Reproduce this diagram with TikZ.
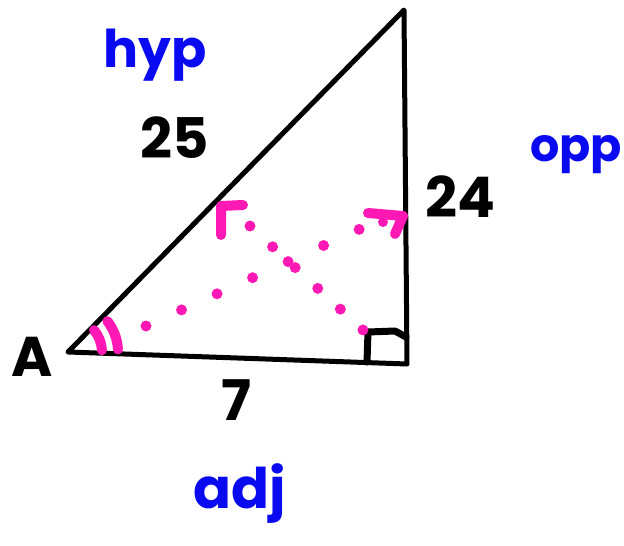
\documentclass[tikz,border=0pt]{standalone}
\usepackage{fontspec}
\setmainfont{Poppins}
\definecolor{rosa}{RGB}{255,25,180}
\definecolor{blu}{RGB}{10,10,240}
\tikzset{
  lato/.style={line width=5pt, line cap=round, line join=round},
  segno/.style={rosa, line width=10pt, line cap=round, line join=round},
  nome/.style={blu, font=\fontsize{52}{52}\selectfont\bfseries},
  misura/.style={font=\fontsize{56}{56}\selectfont\bfseries},
}
\begin{document}
\begin{tikzpicture}[x=1pt,y=-1pt]
  \useasboundingbox (0,0) rectangle (624,546);
  % vertici e lati
  \coordinate (A) at (68,352);
  \coordinate (B) at (404,10);
  \coordinate (C) at (407,364);
  \draw[lato] (A) -- (B) -- (C) -- cycle;
  \draw[lato, line width=7pt] (367,362) -- (368,332) -- (395,331) -- (406,337);

  % angolo in A e linee tratteggiate
  \draw[segno] (A) ++(-40:34) arc[start angle=-40, end angle=-3, radius=34];
  \draw[segno] (A) ++(-38:50) arc[start angle=-38, end angle=-3, radius=50];
  \coordinate (p1) at (146,326);
  \coordinate (p2) at (360,229);
  \coordinate (q1) at (250,226);
  \coordinate (q2) at (363,330);
  \draw[segno, line width=11pt, dash pattern=on 0pt off 39pt] (p1) -- (p2);
  \draw[segno, line width=11pt, dash pattern=on 0pt off 30.7pt] (q1) -- (q2);
  \draw[segno] (243,205) -- (221,206) -- (221,235);
  \draw[segno] (368,213) -- (403,216) -- (395,234);
  \fill[rosa] (383,222) circle (5);

  \node[misura] (lA)  at (32,357)  {A};
  \node[nome]   (hyp) at (155,55)  {hyp};
  \node[misura] (l25) at (175,138) {25};
  \node[misura] (l24) at (460,197) {24};
  \node[nome, font=\fontsize{46}{46}\selectfont\bfseries] (opp) at (576,155) {opp};
  \node[nome, font=\fontsize{56}{56}\selectfont\bfseries] (adj) at (240,494) {adj};
  \node[misura] (l7)  at (236,400) {7};
\end{tikzpicture}
\end{document}
